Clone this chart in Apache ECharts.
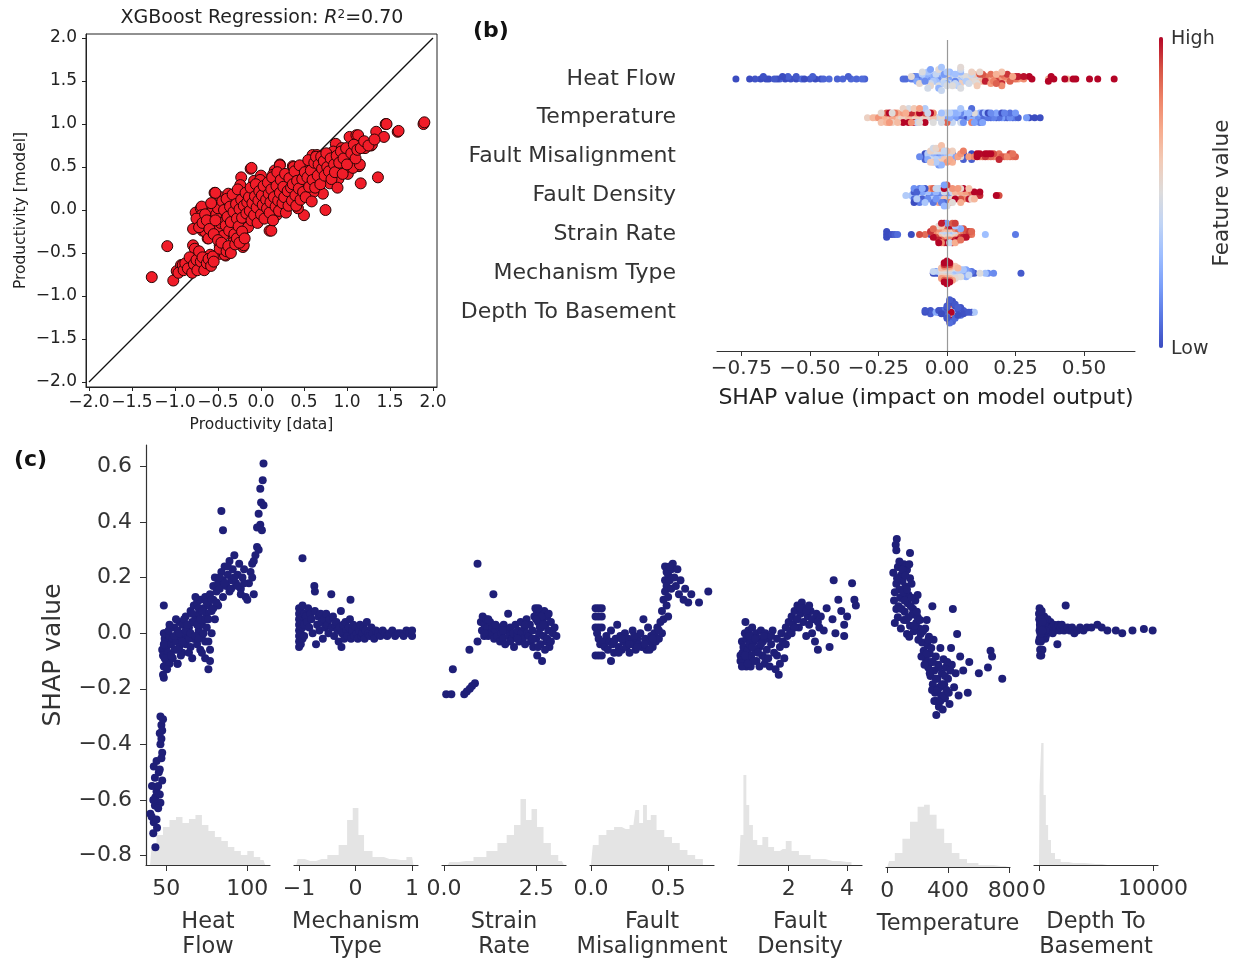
<!DOCTYPE html>
<html><head><meta charset="utf-8">
<script src="https://cdn.jsdelivr.net/npm/echarts@6/dist/echarts.min.js"></script>
<style>html,body{margin:0;padding:0;background:#fff}#c{width:1238px;height:961px}</style>
</head><body><div id="c"></div>
<script>
// ---------------- Panel (a): XGBoost regression (data vs model) ----------------
const regData = [
[-1.27,-0.78],[-1.09,-0.42],[-1.02,-0.82],[-0.98,-0.71],[-0.93,-0.64],[-0.87,-0.65],[-0.79,-0.41],[-0.79,-0.22],[-0.76,-0.03],[-0.76,-0.51],[-0.70,-0.66],[-0.70,0.02],[-0.68,-0.24],[-0.64,-0.55],[-0.62,-0.33],[-0.59,-0.01],[-0.54,0.20],[-0.48,-0.51],[-0.47,0.15],[-0.41,-0.53],[-0.37,-0.43],[-0.25,-0.24],[-0.21,-0.43],[-0.23,0.38],[-0.12,0.48],[-0.08,0.34],[0.0,0.40],[0.10,-0.24],[0.16,0.46],[0.22,0.53],[0.37,0.51],[0.50,-0.06],[0.52,0.51],[0.60,0.64],[0.75,0.0],[0.72,0.19],[0.80,0.31],[0.90,0.36],[1.03,0.85],[1.11,0.87],[1.16,0.31],[1.18,0.73],[1.28,0.75],[1.34,0.91],[1.36,0.38],[1.43,0.85],[1.45,1.0],[1.59,0.91],[1.89,1.0],[1.03,0.52],[1.14,0.51],[1.01,0.42],[0.87,0.77],
[-0.96,-0.73],[-0.91,-0.64],[-0.82,-0.60],[-0.77,-0.45],[-0.73,-0.54],[-0.69,0.04],[-0.69,-0.06],[-0.67,-0.64],[-0.65,-0.25],[-0.61,-0.33],[-0.59,-0.52],[-0.57,-0.02],[-0.57,-0.17],[-0.53,0.20],[-0.48,-0.41],[-0.46,0.06],[-0.44,-0.10],[-0.42,-0.52],[-0.38,0.19],[-0.36,-0.06],[-0.34,-0.29],[-0.32,-0.37],[-0.30,0.09],[-0.28,-0.17],[-0.24,0.29],[-0.22,-0.02],[-0.20,-0.41],[-0.19,0.13],[-0.17,-0.14],[-0.11,0.49],[-0.09,0.02],[-0.07,0.21],[-0.05,-0.10],[-0.01,0.35],[0.01,0.10],[0.05,-0.02],[0.07,0.21],[0.12,-0.24],[0.14,0.41],[0.16,0.10],[0.18,-0.06],[0.22,0.52],[0.24,0.21],[0.26,0.06],[0.30,0.33],[0.34,0.14],[0.38,0.50],[0.40,0.23],[0.43,0.02],[0.47,0.43],[0.53,0.29],[0.57,0.52],[0.61,0.21],[0.65,0.64],[0.68,0.45],[0.78,0.56],[0.84,0.68],[0.94,0.72],[0.98,0.49],[1.01,0.60],[1.07,0.49],[1.13,0.87],[1.15,0.53],[1.21,0.72],[1.29,0.76],[1.46,1.0],[1.60,0.92],[1.90,1.02],
[-0.52,-0.05],[-0.50,0.02],[-0.49,-0.22],[-0.47,-0.15],[-0.45,0.10],[-0.44,-0.30],[-0.43,0.00],[-0.41,-0.18],[-0.40,0.13],[-0.39,-0.08],[-0.37,-0.24],[-0.36,0.04],[-0.35,-0.14],[-0.33,0.18],[-0.32,-0.02],[-0.31,-0.28],[-0.29,0.07],[-0.28,-0.10],[-0.27,0.24],[-0.26,-0.19],[-0.25,0.01],[-0.23,0.12],[-0.22,-0.09],[-0.21,-0.30],[-0.20,0.05],[-0.18,0.20],[-0.17,-0.04],[-0.16,0.09],[-0.15,-0.20],[-0.14,0.15],[-0.13,-0.01],[-0.12,0.26],[-0.11,-0.12],[-0.10,0.08],[-0.08,-0.06],[-0.07,0.16],[-0.06,0.30],[-0.05,0.03],[-0.04,-0.15],[-0.03,0.11],[-0.02,0.22],[0.00,-0.05],[0.01,0.17],[0.02,0.06],[0.03,0.28],[0.04,-0.10],[0.06,0.12],[0.07,0.02],[0.08,0.32],[0.09,0.19],[0.10,-0.03],[0.11,0.09],[0.12,0.24],[0.13,0.38],[0.14,-0.12],[0.15,0.15],[0.17,0.04],[0.18,0.28],[0.19,0.44],[0.20,0.11],[0.21,-0.01],[0.22,0.20],[0.23,0.35],[0.25,0.08],[0.26,0.27],[0.27,0.15],[0.28,0.42],[0.29,-0.03],[0.31,0.22],[0.32,0.05],[0.33,0.37],[0.35,0.26],[0.36,0.11],[0.37,0.30],[0.39,0.45],[0.40,0.17],[0.41,0.05],[0.42,0.34],[0.44,0.25],[0.45,0.52],[0.46,0.12],[0.48,0.36],[0.49,0.21],[0.51,0.44],[0.52,0.15],[0.54,0.38],[0.55,0.58],[0.56,0.27],[0.58,0.46],[0.59,0.10],[0.60,0.35],[0.62,0.55],[0.63,0.26],[0.64,0.62],[0.66,0.40],[0.67,0.53],[0.69,0.30],[0.70,0.62],[0.71,0.48],[0.73,0.57],[0.74,0.40],[0.76,0.66],[0.77,0.50],[0.79,0.45],[0.81,0.60],[0.82,0.36],[0.85,0.53],[0.86,0.44],[0.88,0.63],[0.89,0.26],[0.91,0.55],[0.93,0.68],[0.95,0.42],[0.96,0.60],[0.99,0.72],[1.00,0.53],[1.05,0.66],[1.08,0.76],[1.10,0.60],[1.12,0.70],[1.16,0.72],[1.20,0.80],[1.25,0.75],[1.32,0.82],
[-0.90,-0.70],[-0.88,-0.62],[-0.85,-0.68],[-0.83,-0.55],[-0.80,-0.73],[-0.78,-0.63],[-0.75,-0.58],[-0.74,-0.70],[-0.72,-0.48],[-0.70,-0.60],[-0.68,-0.55],[-0.66,-0.70],[-0.63,-0.62],[-0.61,-0.57],[-0.58,-0.65],[-0.56,-0.54],[-0.55,-0.60],
[-0.75,-0.10],[-0.72,-0.20],[-0.68,-0.15],[-0.65,-0.05],[-0.63,-0.12],[-0.60,-0.22],[-0.58,0.08],[-0.55,-0.28],[-0.53,-0.12],[-0.50,-0.35],[-0.48,-0.45],[-0.46,-0.38],[-0.40,-0.48],[-0.38,-0.42],[-0.35,-0.50],[-0.30,-0.40],[-0.28,-0.33],[-0.25,-0.38],[-0.22,-0.25],[-0.19,-0.33]
];
const identityLine = [[-2,-2],[2,2]];
const regTicks = [-2,-1.5,-1,-0.5,0,0.5,1,1.5,2];

// ---------------- Panel (c): SHAP dependence data [feature value, SHAP value] ----------------
const heatFlowPts = [
[43.3,-0.77],[40.2,-0.65],[42.3,-0.68],[44.3,-0.70],[41.2,-0.55],[43.3,-0.59],[46.4,-0.61],[42.3,-0.48],[45.4,-0.50],[47.5,-0.53],[46.4,-0.40],[47.5,-0.43],[46.4,-0.30],[47,-0.33],[47.5,-0.35],
[41,-0.66],[42,-0.72],[43,-0.62],[44,-0.57],[45,-0.63],[43,-0.52],[44,-0.46],[46,-0.49],[47,-0.38],[46,-0.36],[48,-0.31],[47,-0.45],[45,-0.55],[46,-0.58],[44,-0.67],[42,-0.60],
[48.5,0.10],[48.5,0.0],[47.5,-0.06],[48.5,-0.12],[48.5,-0.16],[56.9,-0.11],
[48,-0.15],[48,-0.08],[49,-0.02],[49,-0.12],[49.5,0.0],[50,-0.05],[50,-0.10],[51,-0.03],[51,-0.07],[52,-0.01],[52,-0.11],[48.5,-0.04],[49,-0.09],[50.5,-0.13],[51.5,0.01],
[53,-0.04],[54,-0.02],[55,-0.06],[55,0.02],[56,-0.03],[57,-0.11],[57,0.01],[58,-0.05],[58,0.04],[59,-0.01],[60,-0.07],[60,0.03],[61,0.0],[62,-0.04],[62,0.06],[63,-0.02],[54,-0.09],[56,0.05],[59,-0.08],
[64,0.02],[65,-0.05],[65,0.08],[66,0.04],[67,-0.02],[67,0.10],[68,0.06],[69,-0.04],[69,0.11],[70,0.01],[70,0.07],[71,-0.06],[71,0.12],[72,0.03],[72,-0.01],[73,0.09],[73,0.05],[74,-0.03],[74,0.13],[75,0.07],[64,-0.07],[66,-0.09],[68,0.13],
[76,-0.13],[77,-0.10],[77,-0.06],[76,-0.03],[78,0.0],
[76,0.10],[77,0.14],[78,0.08],[79,0.17],[79,0.12],[80,0.05],[80,0.20],[81,0.15],[82,0.18],[82,0.10],
[83,0.16],[84,0.22],[85,0.19],[85,0.13],[86,0.24],[87,0.17],[88,0.21],[89,0.15],[89,0.26],[90,0.19],[91,0.23],[92,0.28],[93,0.18],[94,0.21],[95,0.25],[96,0.16],[96,0.14],[97,0.20],[98,0.23],[99,0.13],[100,0.12],[101,0.18],[102,0.22],[103,0.25],[104,0.14],
[84,0.44],[85,0.37],
[110,0.61],[109.5,0.55],[108,0.52],[108.5,0.47],[110,0.46],[107,0.43],[108,0.39],[106,0.38],[109,0.37],[106,0.31],[107,0.30],[104,0.26],[105,0.28],[103,0.20],
[52,0.03],[53,-0.08],[55,-0.01],[57,-0.06],[58,0.0],[60,-0.03],[61,0.05],[62,0.01],[63,0.03],[64,-0.02],[65,0.0],[66,0.07],[67,0.04],[68,-0.01],[69,0.03],[70,-0.02],[70,0.09],[71,0.05],[72,0.08],[73,0.0],[74,0.05],[75,0.02],[75,0.11],[76,0.05],[78,0.12],[79,0.09],[81,0.11],[83,0.20],[86,0.18],[88,0.24],[90,0.16],[92,0.20],[94,0.17],[98,0.18],[74,-0.09],[72,-0.07]
];
const mechanismTypePts = [
[-1,0.09],[-1,0.07],[-1,0.05],[-1,0.03],[-1,0.01],[-1,-0.01],[-1,-0.03],[-1,-0.05],[-0.97,0.08],[-0.97,0.04],[-0.97,0.0],[-0.97,-0.04],[-0.94,0.10],[-0.94,0.06],[-0.94,0.02],[-0.94,-0.02],[-0.94,0.27],[-0.91,0.07],[-0.91,0.03],[-0.91,-0.01],[-0.88,0.06],[-0.86,0.04],[-0.84,0.09],[-0.82,0.02],[-0.80,0.07],[-0.78,0.05],[-0.76,0.0],[-0.73,0.17],[-0.72,0.15],[-0.72,0.08],[-0.70,-0.04],[-0.68,0.03],[-0.66,0.06],[-0.64,0.01],[-0.62,0.07],[-0.60,0.04],[-0.58,-0.02],[-0.56,0.05],[-0.54,0.02],[-0.52,0.07],[-0.50,0.03],[-0.48,0.0],[-0.46,0.05],[-0.43,0.14],[-0.42,0.02],[-0.40,0.06],[-0.38,-0.01],[-0.36,0.03],[-0.34,0.04],[-0.32,0.01],[-0.30,-0.03],[-0.28,0.02],[-0.26,0.08],[-0.25,-0.05],[-0.24,0.0],[-0.22,0.03],[-0.20,-0.02],[-0.18,0.04],[-0.16,0.01],[-0.14,-0.01],[-0.12,0.02],[-0.10,0.05],[-0.09,0.12],[-0.08,-0.02],[-0.06,0.01],[-0.04,0.03],[-0.02,-0.01],[0.0,0.02],[0.02,0.0],[0.04,-0.02],[0.06,0.01],[0.08,0.03],[0.10,-0.01],[0.12,0.0],[0.14,0.02],[0.16,-0.02],[0.18,0.01],[0.20,0.04],[0.22,0.0],[0.25,-0.01],[0.28,0.02],[0.30,0.0],[0.33,-0.02],[0.36,0.01],[0.40,0.0],[0.44,-0.01],[0.48,0.01],[0.52,0.0],[0.56,-0.01],[0.60,0.0],[0.65,0.01],[0.70,-0.01],[0.75,0.0],[0.80,0.0],[0.85,-0.01],[0.90,0.01],[0.95,0.0],[1.0,-0.01],[1.0,0.01]
];
const strainRatePts = [
[0.06,-0.22],[0.20,-0.22],[0.24,-0.13],[0.55,-0.22],[0.62,-0.21],[0.70,-0.20],[0.76,-0.19],[0.84,-0.18],[0.69,-0.06],[0.91,0.25],[0.91,-0.03],[1.0,0.04],[1.03,0.01],[1.05,0.06],[1.09,-0.01],[1.1,0.03],[1.15,0.05],[1.18,0.02],[1.2,-0.01],[1.25,0.04],[1.28,0.0],[1.32,0.02],[1.34,0.14],[1.36,-0.02],[1.4,0.01],[1.45,-0.01],[1.5,0.02],[1.52,-0.03],[1.56,0.0],[1.6,-0.02],[1.62,0.03],[1.66,-0.04],[1.7,0.01],[1.74,0.07],[1.76,-0.01],[1.8,0.02],[1.84,-0.02],[1.88,0.0],[1.9,-0.05],[1.94,0.03],[1.98,-0.01],[2.0,0.01],[2.04,-0.03],[2.08,0.04],[2.1,0.0],[2.14,-0.02],[2.18,0.02],[2.2,-0.04],[2.24,0.05],[2.26,0.0],[2.3,-0.01],[2.33,0.03],[2.36,-0.03],[2.4,0.01],[2.42,-0.05],[2.45,0.06],[2.48,0.09],[2.5,-0.02],[2.52,0.08],[2.53,-0.08],[2.55,0.04],[2.58,0.0],[2.6,0.07],[2.62,-0.04],[2.64,0.02],[2.66,-0.10],[2.68,0.05],[2.7,-0.01],[2.72,0.08],[2.75,0.03],[2.78,-0.03],[2.8,0.06],[2.83,0.01],[2.86,-0.05],[2.9,0.04],[2.95,0.0],[3.0,0.02],[3.05,-0.01],[2.56,0.09],[2.65,0.06],[2.74,-0.06],[2.84,0.07],
[1.1,0.0],[1.2,0.05],[1.4,0.03],[1.6,0.01],[1.8,-0.03],[2.0,-0.02],[2.2,0.03],[2.4,-0.02],[2.5,0.05],[2.6,0.02],[2.7,0.03],[2.8,-0.02],[2.9,-0.03],[2.55,-0.05]
];
const faultMisalignmentPts = [
[0.03,0.09],[0.05,0.09],[0.07,0.09],[0.03,0.06],[0.05,0.06],[0.07,0.06],[0.03,0.02],[0.05,0.02],[0.07,0.02],[0.03,-0.08],[0.05,-0.08],[0.07,-0.08],[0.04,0.0],[0.05,-0.02],[0.06,-0.04],[0.08,-0.03],[0.09,-0.05],[0.1,-0.01],[0.11,-0.06],[0.12,-0.03],[0.13,-0.10],[0.13,0.01],[0.14,-0.04],[0.15,-0.07],[0.16,-0.02],[0.17,0.03],[0.18,-0.05],[0.19,-0.01],[0.2,-0.06],[0.21,-0.03],[0.22,0.0],[0.23,-0.05],[0.24,-0.02],[0.25,-0.07],[0.26,-0.04],[0.27,0.01],[0.28,-0.03],[0.29,-0.06],[0.3,-0.02],[0.31,-0.04],[0.32,0.0],[0.33,-0.05],[0.34,0.05],[0.35,-0.02],[0.36,-0.06],[0.37,0.02],[0.38,-0.03],[0.39,-0.01],[0.4,-0.05],[0.41,0.0],[0.42,-0.03],[0.43,0.02],[0.44,-0.02],[0.45,0.04],[0.46,0.0],[0.46,0.08],[0.47,0.12],[0.47,0.05],[0.48,0.15],[0.48,0.19],[0.48,0.24],[0.49,0.10],[0.49,0.17],[0.5,0.21],[0.5,0.13],[0.51,0.19],[0.52,0.23],[0.52,0.16],[0.53,0.25],[0.54,0.20],[0.55,0.17],[0.56,0.23],[0.57,0.14],[0.58,0.19],[0.6,0.12],[0.61,0.16],[0.63,0.11],[0.65,0.14],[0.70,0.11],[0.76,0.15],
[0.15,-0.03],[0.2,-0.02],[0.25,-0.04],[0.3,-0.05],[0.35,-0.04],[0.4,-0.02],[0.44,0.01],[0.18,-0.07],[0.28,-0.01],[0.38,-0.06],[0.49,0.22],[0.51,0.24],[0.5,0.06]
];
const faultDensityPts = [
[0.35,-0.10],[0.40,-0.10],[0.45,-0.10],[0.35,-0.08],[0.42,-0.07],[0.52,0.04],[0.4,-0.03],[0.45,-0.05],[0.5,0.0],[0.55,-0.02],[0.6,-0.06],[0.62,0.01],[0.65,-0.04],[0.7,-0.01],[0.72,-0.08],[0.75,0.02],[0.8,-0.03],[0.85,-0.06],[0.88,0.0],[0.9,-0.10],[0.95,-0.02],[1.0,-0.05],[1.05,0.01],[1.1,-0.08],[1.12,-0.03],[1.18,-0.11],[1.2,0.0],[1.25,-0.06],[1.3,-0.02],[1.35,-0.12],[1.4,-0.04],[1.45,0.01],[1.5,-0.07],[1.55,-0.13],[1.6,-0.02],[1.66,-0.15],[1.7,-0.05],[1.75,0.0],[1.8,-0.03],[1.85,-0.09],[1.9,0.02],[1.95,-0.01],[2.0,0.04],[2.05,0.01],[2.1,0.06],[2.15,0.03],[2.2,0.08],[2.25,0.05],[2.3,0.10],[2.35,0.02],[2.4,0.07],[2.45,0.11],[2.5,0.04],[2.55,0.09],[2.6,-0.01],[2.65,0.06],[2.7,0.03],[2.75,0.08],[2.8,0.0],[2.85,0.05],[2.9,-0.03],[2.95,0.07],[3.0,-0.06],[3.05,0.02],[3.1,0.06],[3.2,0.01],[3.3,0.09],[3.4,-0.05],[3.5,0.05],[3.54,0.19],[3.6,0.0],[3.7,0.12],[3.8,0.08],[3.9,0.03],[3.9,-0.01],[4.0,0.06],[4.17,0.18],[4.25,0.12],[4.3,0.10],[1.2,-0.09],[0.55,-0.12],[0.6,-0.09],[0.7,-0.12],[0.8,-0.1],[1.0,-0.12],[2.1,0.0],[2.3,0.05],
[0.4,-0.12],[0.5,-0.08],[0.6,-0.11],[0.65,-0.01],[0.75,-0.05],[0.85,-0.02],[0.95,-0.07],[1.05,-0.04],[1.15,-0.01],[1.3,-0.09],[1.4,-0.01],[1.6,-0.08],[1.7,-0.11],[1.9,-0.04],[2.2,0.02],[2.4,0.09],[2.6,0.08],[2.7,0.10],[2.8,0.05],[3.0,0.04]
];
const temperaturePts = [
[63,0.34],[56,0.32],[60,0.30],[150,0.29],[40,0.22],[70,0.24],[90,0.21],[110,0.25],[130,0.23],[150,0.20],[60,0.18],[80,0.16],[100,0.19],[120,0.17],[140,0.14],[160,0.18],[45,0.12],[75,0.10],[95,0.13],[115,0.08],[135,0.11],[165,0.07],[50,0.04],[70,0.06],[90,0.02],[110,0.05],[130,0.00],[150,0.03],[170,0.09],[185,0.12],[200,0.06],[210,0.02],[60,0.09],[85,0.13],[105,0.15],[125,0.05],[145,-0.01],[190,0.04],[220,0.00],[230,-0.03],[240,-0.06],[250,0.02],[255,-0.09],[265,-0.04],[270,-0.12],[280,-0.07],[285,-0.15],[290,-0.10],[297,0.10],[300,-0.18],[305,-0.02],[310,-0.13],[315,-0.21],[320,-0.08],[323,-0.29],[325,-0.24],[330,-0.16],[335,-0.11],[340,-0.26],[345,-0.19],[350,-0.05],[355,-0.22],[360,-0.14],[365,-0.27],[370,-0.09],[375,-0.18],[380,-0.23],[385,-0.12],[390,-0.20],[400,-0.16],[410,-0.25],[420,-0.05],[425,-0.11],[432,0.09],[440,-0.19],[450,-0.14],[460,0.00],[470,-0.22],[480,-0.08],[500,-0.13],[530,-0.21],[540,-0.10],[603,-0.14],[663,-0.12],[680,-0.06],[690,-0.08],[757,-0.16],[200,0.14],[175,0.01],[260,0.05],[275,-0.01],
[50,0.15],[65,0.20],[80,0.26],[95,0.09],[100,0.23],[115,0.12],[120,0.21],[130,0.16],[140,0.06],[145,0.25],[155,0.10],[160,0.13],[180,0.03],[195,0.08],[205,-0.02],[215,0.05],[225,-0.08],[235,0.01],[245,-0.11],[260,-0.07],[270,-0.02],[280,-0.14],[290,-0.05],[295,-0.20],[300,-0.10],[310,-0.24],[320,-0.16],[330,-0.20],[340,-0.12],[350,-0.24],[360,-0.18],[370,-0.22],[380,-0.15],[395,-0.10],[405,-0.21],[415,-0.13]
];
const depthToBasementPts = [
[0,0.07],[100,0.05],[200,0.03],[50,0.01],[150,-0.01],[250,0.04],[300,0.02],[0,-0.03],[100,-0.06],[200,-0.06],[300,-0.06],[100,-0.08],[200,-0.08],[50,0.09],[350,0.0],[400,0.03],[450,0.06],[500,0.01],[550,-0.02],[600,0.04],[650,0.02],[700,0.0],[800,0.03],[900,0.01],[1000,0.04],[1100,0.02],[1200,0.0],[1300,0.03],[1400,0.01],[1500,0.02],[1610,-0.04],[1700,0.03],[1800,0.01],[1900,0.02],[2000,0.03],[2200,0.01],[2340,0.10],[2500,0.02],[2700,0.01],[2900,0.02],[3100,0.0],[3360,0.01],[3600,0.02],[3900,0.01],[4200,0.02],[4600,0.02],[5120,0.03],[5500,0.02],[6000,0.01],[6740,0.01],[7300,0.0],[8200,0.01],[9200,0.015],[9970,0.01],[150,0.02],[250,-0.02],[350,0.05],[600,-0.01],[750,0.05],
[20,0.05],[80,0.03],[120,0.0],[180,0.04],[220,0.01],[280,0.06],[320,-0.01],[380,0.02],[420,0.0],[480,0.03],[520,0.05],[580,0.01],[130,0.06],[170,-0.03],[230,0.08],[270,0.0],[60,-0.02],[90,0.04],[110,0.02],[160,0.05],[190,0.0],[240,0.03],[290,0.01],[330,0.04]
];

// Histograms of feature values (bin centre, count)
const heatFlowHist = [[40,0],[42,20],[46,30],[50,38],[54,45],[58,48],[62,42],[66,46],[70,50],[74,40],[78,34],[82,28],[86,24],[90,18],[94,14],[98,10],[102,14],[106,8],[110,5],[112,0]];
const mechanismTypeHist = [[-1.05,0],[-1,6],[-0.8,4],[-0.6,6],[-0.4,10],[-0.2,20],[-0.1,45],[0,57],[0.1,30],[0.2,14],[0.4,8],[0.6,6],[0.8,5],[1,8],[1.05,0]];
const strainRateHist = [[0.1,0],[0.2,3],[0.6,4],[1.0,8],[1.3,14],[1.6,22],[1.8,30],[2.0,40],[2.15,66],[2.3,45],[2.45,56],[2.6,38],[2.8,22],[3.0,10],[3.2,4],[3.3,0]];
const faultMisalignmentHist = [[0.0,0],[0.025,20],[0.075,30],[0.125,35],[0.175,38],[0.225,36],[0.275,40],[0.3,55],[0.325,42],[0.35,60],[0.375,45],[0.4,50],[0.45,35],[0.5,28],[0.55,22],[0.6,15],[0.65,10],[0.7,6],[0.75,0]];
const faultDensityHist = [[0.3,0],[0.4,30],[0.5,90],[0.6,60],[0.7,40],[0.85,25],[1.0,20],[1.2,28],[1.4,18],[1.6,14],[1.8,16],[2.0,24],[2.2,14],[2.5,10],[3.0,6],[3.5,4],[4.0,3],[4.3,0]];
const temperatureHist = [[0,0],[25,6],[75,14],[125,28],[175,45],[225,60],[260,62],[300,52],[350,38],[400,24],[450,14],[500,8],[550,4],[650,2],[750,1],[800,0]];
const depthToBasementHist = [[0,0],[100,80],[300,122],[500,70],[700,40],[900,25],[1200,12],[1600,6],[2200,3],[3000,2],[5000,1],[6000,0]];

const heatFlowTicks = [50,100];
const mechanismTypeTicks = [-1,0,1];
const strainRateTicks = [0,2.5];
const faultMisalignmentTicks = [0,0.5];
const faultDensityTicks = [2,4];
const temperatureTicks = [0,400,800];
const depthToBasementTicks = [0,10000];
const shapTicks = [-0.8,-0.6,-0.4,-0.2,0,0.2,0.4,0.6];
const summaryTicks = [-0.75,-0.5,-0.25,0,0.25,0.5];

// Panel (b) row order (top to bottom)
const summaryOrder = ['Heat Flow','Temperature','Fault Misalignment','Fault Density','Strain Rate','Mechanism Type','Depth To Basement'];

const FF = 'DejaVu Sans';
const TXT = '#333';
const fmt = (v, d) => { const s = Number(v).toFixed(d); return s.replace('-', '\u2212'); };

const cPanels = [
  {key:'Heat Flow', name:'Heat\nFlow', pts:heatFlowPts, hist:heatFlowHist, min:37.5, max:114, ticks:heatFlowTicks, dec:0},
  {key:'Mechanism Type', name:'Mechanism\nType', pts:mechanismTypePts, hist:mechanismTypeHist, min:-1.09, max:1.105, ticks:mechanismTypeTicks, dec:0},
  {key:'Strain Rate', name:'Strain\nRate', pts:strainRatePts, hist:strainRateHist, min:-0.054, max:3.31, ticks:strainRateTicks, dec:1},
  {key:'Fault Misalignment', name:'Fault\nMisalignment', pts:faultMisalignmentPts, hist:faultMisalignmentHist, min:-0.006, max:0.797, ticks:faultMisalignmentTicks, dec:1},
  {key:'Fault Density', name:'Fault\nDensity', pts:faultDensityPts, hist:faultDensityHist, min:0.265, max:4.51, ticks:faultDensityTicks, dec:0},
  {key:'Temperature', name:'Temperature', pts:temperaturePts, hist:temperatureHist, min:-8, max:808, ticks:temperatureTicks, dec:0},
  {key:'Depth To Basement', name:'Depth To\nBasement', pts:depthToBasementPts, hist:depthToBasementHist, min:-439, max:10439, ticks:depthToBasementTicks, dec:0}
];

// ---- summary (beeswarm) data, derived from the same SHAP values ----
function percentile(arr, p) {
  const s = arr.slice().sort((a,b)=>a-b); const idx = (s.length-1)*p/100;
  const lo = Math.floor(idx), hi = Math.ceil(idx); return s[lo] + (s[hi]-s[lo])*(idx-lo);
}
function swarmOffsets(vals) {
  const N = vals.length, nbins = 100;
  const mn = Math.min(...vals), mx = Math.max(...vals);
  const quant = vals.map(v => Math.round(nbins*(v-mn)/(mx-mn+1e-8)));
  const inds = vals.map((_,i)=>i).sort((a,b)=> quant[a]-quant[b] || a-b);
  const ys = new Array(N).fill(0); let layer = 0, last = -1;
  inds.forEach(i => { if (quant[i] !== last) layer = 0; ys[i] = Math.ceil(layer/2)*((layer%2)*2-1); layer++; last = quant[i]; });
  const m = Math.max(...ys.map(y=>y+1));
  return ys.map(y => y*0.9*(0.4/m));
}
const summaryData = [];
summaryOrder.forEach((feat, k) => {
  const p = cPanels.find(c => c.key === feat);
  const fv = p.pts.map(d=>d[0]), sv = p.pts.map(d=>d[1]);
  let vmin = percentile(fv,5), vmax = percentile(fv,95);
  if (vmax <= vmin) { vmin = Math.min(...fv); vmax = Math.max(...fv); }
  const off = swarmOffsets(sv);
  const row = summaryOrder.length - 1 - k;
  sv.forEach((s,i) => {
    const c = Math.max(0, Math.min(1, (fv[i]-vmin)/(vmax-vmin)));
    summaryData.push([s, row + off[i], c]);
  });
});

const coolwarm = ['#3b4cc0','#5977e3','#7b9ff9','#9ebeff','#c0d4f5','#dddcdc','#f2cbb7','#f7ac8e','#ee8468','#d65244','#b40426'];

const grids = [
  {left:86, top:34, width:351, height:353, show:true, borderColor:'#222', borderWidth:1, backgroundColor:'transparent'},
  {left:717, top:40, width:418, height:311}
];
const xAxes = [
  {gridIndex:0, type:'value', min:-2.035, max:2.047, splitLine:{show:false},
   axisLine:{onZero:false, lineStyle:{color:'#222'}}, axisTick:{length:4, customValues:regTicks, lineStyle:{color:'#222'}},
   axisLabel:{customValues:regTicks, formatter:v=>fmt(v,1), fontSize:17, color:'#222', margin:7, fontFamily:FF},
   name:'Productivity [data]', nameLocation:'middle', nameGap:30, nameTextStyle:{fontSize:15.5, color:'#222', fontFamily:FF}},
  {gridIndex:1, type:'value', min:-0.839, max:0.686, splitLine:{show:false},
   axisLine:{onZero:false, lineStyle:{color:TXT}}, axisTick:{length:5, customValues:summaryTicks, lineStyle:{color:TXT}},
   axisLabel:{customValues:summaryTicks, formatter:v=>fmt(v,2), fontSize:20, color:TXT, margin:8, fontFamily:FF},
   name:'SHAP value (impact on model output)', nameLocation:'middle', nameGap:36, nameTextStyle:{fontSize:22, color:'#222', fontFamily:FF}}
];
const yAxes = [
  {gridIndex:0, type:'value', min:-2.058, max:2.047, splitLine:{show:false},
   axisLine:{onZero:false, lineStyle:{color:'#222'}}, axisTick:{length:4, customValues:regTicks, lineStyle:{color:'#222'}},
   axisLabel:{customValues:regTicks, formatter:v=>fmt(v,1), fontSize:17, color:'#222', margin:9, fontFamily:FF},
   name:'Productivity [model]', nameLocation:'middle', nameGap:57, nameTextStyle:{fontSize:15.5, color:'#222', fontFamily:FF}},
  {gridIndex:1, type:'value', min:-1, max:7, splitLine:{show:false}, axisLine:{show:false}, axisTick:{show:false},
   axisLabel:{customValues:[0,1,2,3,4,5,6], formatter:v=>summaryOrder[6-Math.round(v)], fontSize:22, color:TXT, margin:41, fontFamily:FF}}
];
const series = [
  {type:'scatter', xAxisIndex:0, yAxisIndex:0, data:regData, symbolSize:11, z:3,
   itemStyle:{color:'#f01c28', borderColor:'#2a0505', borderWidth:1, opacity:1}},
  {type:'line', xAxisIndex:0, yAxisIndex:0, data:identityLine, symbol:'none', z:2, lineStyle:{color:'#111', width:1.3}},
  {type:'scatter', xAxisIndex:1, yAxisIndex:1, data:summaryData, symbolSize:7, z:3, itemStyle:{opacity:1},
   markLine:{silent:true, symbol:'none', label:{show:false}, lineStyle:{color:'#999', width:1.2, type:'solid'}, data:[{xAxis:0}]}}
];
cPanels.forEach((p,i) => {
  grids.push({left:146 + i*148, top:445, width:124, height:422});
  xAxes.push({gridIndex:2+i, type:'value', min:p.min, max:p.max, splitLine:{show:false},
    axisLine:{onZero:false, lineStyle:{color:TXT, width:1.2}},
    axisTick:{length:6, customValues:p.ticks, lineStyle:{color:TXT}},
    axisLabel:{customValues:p.ticks, formatter:v=>fmt(v,p.dec), fontSize:22, color:TXT, margin:13, fontFamily:FF},
    name:p.name, nameLocation:'middle', nameGap:45, nameTextStyle:{fontSize:22.5, color:TXT, lineHeight:25, fontFamily:FF}});
  yAxes.push({gridIndex:2+i, type:'value', min:-0.834, max:0.677, show:i===0, splitLine:{show:false},
    axisLine:{onZero:false, lineStyle:{color:TXT, width:1.2}}, axisTick:{length:6, customValues:shapTicks, lineStyle:{color:TXT}},
    axisLabel:{customValues:shapTicks, formatter:v=>fmt(v,1), fontSize:22, color:TXT, margin:14, fontFamily:FF},
    name:'SHAP value', nameLocation:'middle', nameGap:80, nameTextStyle:{fontSize:25, color:TXT, fontFamily:FF}});
  yAxes.push({gridIndex:2+i, type:'value', min:0, max:420, show:false, splitLine:{show:false}});
  series.push({type:'line', xAxisIndex:2+i, yAxisIndex:3+2*i, data:p.hist, step:'middle', symbol:'none', z:1,
    lineStyle:{width:0}, areaStyle:{color:'#e4e4e4', opacity:1}});
  series.push({type:'scatter', xAxisIndex:2+i, yAxisIndex:2+2*i, data:p.pts, symbolSize:8, z:3,
    itemStyle:{color:'#1f1f78', opacity:1}});
});

const chart = echarts.init(document.getElementById('c'), null, {renderer:'canvas'});
chart.setOption({
  animation:false,
  backgroundColor:'#fff',
  textStyle:{fontFamily:FF},
  grid:grids, xAxis:xAxes, yAxis:yAxes, series:series,
  visualMap:[{type:'continuous', seriesIndex:2, dimension:2, min:0, max:1, inRange:{color:coolwarm},
    orient:'vertical', left:1159, top:37, itemWidth:4, itemHeight:311, calculable:false, padding:0, text:null, showLabel:false}],
  graphic:[
    {type:'text', x:262, y:18, style:{text:'{n|XGBoost Regression: }{i|R}{s|2}{n|=0.70}', align:'center', verticalAlign:'middle',
      rich:{n:{fontSize:19, fill:'#222', fontFamily:FF}, i:{fontSize:19, fontStyle:'italic', fill:'#222', fontFamily:FF}, s:{fontSize:12, verticalAlign:'top', fill:'#222', fontFamily:FF}}}},
    {type:'text', x:473, y:31, style:{text:'(b)', fontSize:22, fontWeight:'bold', fill:'#111', verticalAlign:'middle', fontFamily:FF}},
    {type:'text', x:14, y:460, style:{text:'(c)', fontSize:22, fontWeight:'bold', fill:'#111', verticalAlign:'middle', fontFamily:FF}},
    {type:'text', x:1171, y:39, style:{text:'High', fontSize:19, fill:TXT, verticalAlign:'middle', fontFamily:FF}},
    {type:'text', x:1171, y:349, style:{text:'Low', fontSize:19, fill:TXT, verticalAlign:'middle', fontFamily:FF}},
    {type:'text', x:1222, y:193, rotation:Math.PI/2, style:{text:'Feature value', fontSize:21.5, fill:TXT, align:'center', verticalAlign:'middle', fontFamily:FF}}
  ]
});
</script></body></html>
